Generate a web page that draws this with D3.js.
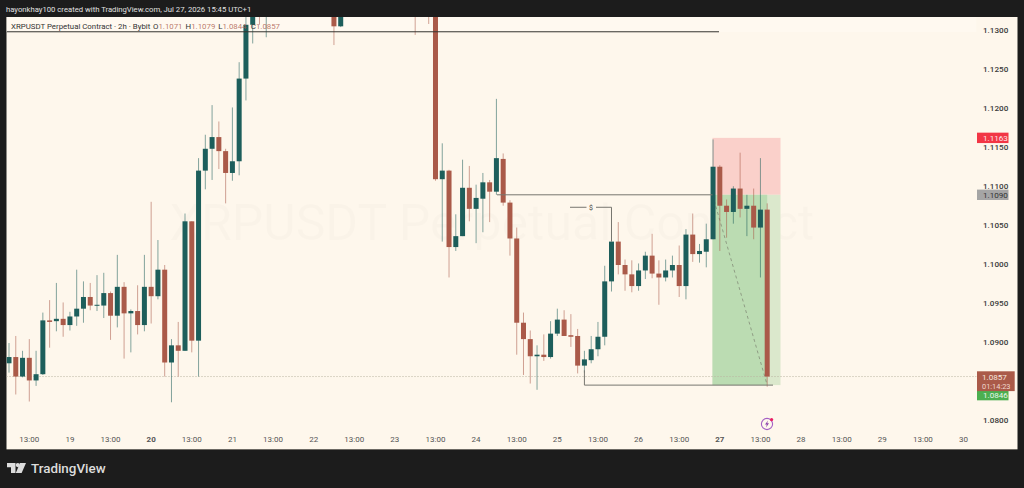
<!DOCTYPE html>
<html>
<head>
<meta charset="utf-8">
<script src="https://cdn.jsdelivr.net/npm/d3@7"></script>
<style>
  html, body { margin: 0; padding: 0; background: #1c1c1c; overflow: hidden; }
  text { font-family: Roboto, "Noto Sans", sans-serif; }
</style>
</head>
<body>
<script>
const width = 1024;
const height = 488;

// bars are counted from the first one on screen, 2h apart. bars above the pane are left out
const barIndex = [0,1,2,3,4,5,6,7,8,9,10,11,12,13,14,15,16,17,18,19,20,21,22,23,24,25,26,27,28,29,30,31,32,33,34,35,36,37,38,48,49,60,62,63,64,65,66,67,68,69,70,71,72,73,74,75,76,77,78,79,80,81,82,83,84,85,86,87,88,89,90,91,92,93,94,95,96,97,98,99,100,101,102,103,104,105,106,107,108,109,110,111,112];
const opens = [1.0874,1.0882,1.0857,1.0881,1.0852,1.0860,1.0929,1.0928,1.0931,1.0923,1.0934,1.0944,1.0959,1.0948,1.0948,1.0964,1.0935,1.0972,1.0938,1.0941,1.0923,1.0972,1.0960,1.0994,1.0875,1.0897,1.0890,1.1056,1.0903,1.1121,1.1149,1.1164,1.1146,1.1118,1.1133,1.1239,1.1308,1.1360,1.1345,1.1340,1.1306,1.1345,1.1350,1.1340,1.1110,1.1121,1.1023,1.1037,1.1099,1.1072,1.1085,1.1106,1.1094,1.1136,1.1080,1.1034,1.0926,1.0905,1.0883,1.0885,1.0882,1.0912,1.0930,1.0910,1.0909,1.0871,1.0878,1.0892,1.0908,1.0979,1.1030,1.1000,1.0988,1.0973,1.0993,1.1012,1.0989,1.0984,1.0993,1.1000,1.0973,1.1039,1.1014,1.1017,1.1033,1.1126,1.1076,1.1068,1.1098,1.1072,1.1076,1.1048,1.1071];
const highs = [1.0900,1.0909,1.0890,1.0905,1.0890,1.0939,1.0955,1.0977,1.0952,1.0940,1.0994,1.0979,1.0977,1.0987,1.0990,1.0966,1.1013,1.0978,1.0943,1.0974,1.1013,1.1081,1.1032,1.1000,1.0905,1.0927,1.1066,1.1056,1.1137,1.1167,1.1205,1.1184,1.1149,1.1202,1.1260,1.1320,1.1350,1.1370,1.1365,1.1345,1.1340,1.1350,1.1355,1.1345,1.1156,1.1122,1.1065,1.1135,1.1127,1.1103,1.1118,1.1109,1.1213,1.1143,1.1083,1.1048,1.0939,1.0916,1.0897,1.0911,1.0928,1.0944,1.0942,1.0937,1.0918,1.0890,1.0909,1.0927,1.0999,1.1030,1.1055,1.1007,1.1006,1.1002,1.1017,1.1040,1.1006,1.1007,1.1012,1.1025,1.1046,1.1066,1.1027,1.1053,1.1161,1.1128,1.1084,1.1101,1.1144,1.1090,1.1098,1.1137,1.1079];
const lows = [1.0862,1.0834,1.0856,1.0825,1.0845,1.0859,1.0894,1.0915,1.0908,1.0916,1.0922,1.0926,1.0942,1.0941,1.0932,1.0904,1.0920,1.0880,1.0888,1.0911,1.0915,1.0925,1.0956,1.0857,1.0824,1.0857,1.0890,1.0888,1.0857,1.1097,1.1109,1.1123,1.1079,1.1108,1.1115,1.1211,1.1284,1.1308,1.1292,1.1282,1.1305,1.1295,1.1309,1.1108,1.1030,1.0984,1.1018,1.1037,1.1056,1.1028,1.1042,1.1055,1.1090,1.1076,1.1012,1.0885,1.0859,1.0848,1.0840,1.0877,1.0880,1.0909,1.0909,1.0895,1.0861,1.0862,1.0874,1.0883,1.0897,1.0966,1.0988,1.0967,1.0965,1.0967,1.0982,1.0983,1.0949,1.0979,1.0984,1.0959,1.0956,1.1004,1.1003,1.0997,1.1033,1.1018,1.1035,1.1053,1.1061,1.1037,1.1033,1.0984,1.0844];
const closes = [1.0882,1.0857,1.0881,1.0852,1.0860,1.0929,1.0927,1.0931,1.0923,1.0934,1.0944,1.0959,1.0948,1.0949,1.0964,1.0935,1.0972,1.0938,1.0941,1.0923,1.0972,1.0960,1.0994,1.0875,1.0897,1.0890,1.1056,1.0903,1.1121,1.1149,1.1164,1.1146,1.1118,1.1133,1.1239,1.1308,1.1340,1.1345,1.1355,1.1306,1.1335,1.1335,1.1340,1.1110,1.1121,1.1023,1.1037,1.1099,1.1072,1.1086,1.1106,1.1094,1.1137,1.1080,1.1034,1.0926,1.0905,1.0883,1.0885,1.0882,1.0912,1.0930,1.0909,1.0908,1.0871,1.0879,1.0892,1.0908,1.0979,1.1030,1.1000,1.0988,1.0973,1.0993,1.1012,1.0989,1.0984,1.0993,1.1000,1.0973,1.1039,1.1014,1.1018,1.1033,1.1126,1.1076,1.1068,1.1098,1.1072,1.1076,1.1048,1.1071,1.0857];

// 1.0850 sits behind the last price tag in the original, so it is not listed
const priceTicks = [1.13, 1.125, 1.12, 1.115, 1.11, 1.105, 1.1, 1.095, 1.09, 1.08];
const timeTicks = [3,9,15,21,27,33,39,45,51,57,63,69,75,81,87,93,99,105,111,117,123,129,135,141];
const timeLabels = ["13:00","19","13:00","20","13:00","21","13:00","22","13:00","23","13:00","24","13:00","25","13:00","26","13:00","27","13:00","28","13:00","29","13:00","30"];
const boldLabels = ["20", "27"];

const stopPrice = 1.1163;
const entryPrice = 1.109;
const targetPrice = 1.0846;
const lastPrice = 1.0857;
const resistance = 1.1299;
const brokenHigh = 1.109;
const sweepLevel = 1.103;
const sweepLabelLevel = 1.1074;

const ohlcLabels = [["O", "1.1071"], ["H", "1.1079"], ["L", "1.0844"], ["C", "1.0857"]];

const upColor = "#1d5e5b";
const downColor = "#aa5a49";
const paper = "#fef7ec";
const toolLine = "#77766f";

const y = d3.scaleLinear().domain([1.08, 1.13]).range([421, 31]);
const x = d3.scaleLinear().domain([0, 112]).range([9, 767.2]);

const svg = d3.select("body").append("svg")
  .attr("width", width)
  .attr("height", height)
  .style("display", "block");

svg.append("rect").attr("width", width).attr("height", height).attr("fill", "#1c1c1c");

svg.append("text")
  .attr("x", 6).attr("y", 12)
  .attr("fill", "#e0e0e0").attr("font-size", 7.7)
  .text("hayonkhay100 created with TradingView.com, Jul 27, 2026 15:45 UTC+1");

svg.append("rect")
  .attr("x", 6.5).attr("y", 17).attr("width", 1011).attr("height", 432)
  .attr("fill", paper);
svg.append("rect")
  .attr("x", 6.5).attr("y", 449).attr("width", 1011).attr("height", 1)
  .attr("fill", "#6d6a64");

svg.append("defs").append("clipPath").attr("id", "pane")
  .append("rect").attr("x", 6.5).attr("y", 17).attr("width", 970).attr("height", 432);

svg.append("text")
  .attr("x", 492).attr("y", 240)
  .attr("text-anchor", "middle")
  .attr("font-size", 50).attr("fill", "#000").attr("fill-opacity", 0.015)
  .text("XRPUSDT Perpetual Contract");

const pane = svg.append("g").attr("clip-path", "url(#pane)");

// strip behind the legend text
pane.append("rect")
  .attr("x", 6.5).attr("y", 17).attr("width", 970).attr("height", 15)
  .attr("fill", "#fff9f0");

// position tool
const toolLeft = 712.5;
const toolRight = 780.5;
pane.append("rect")
  .attr("x", toolLeft).attr("y", y(stopPrice))
  .attr("width", toolRight - toolLeft).attr("height", y(entryPrice) - y(stopPrice))
  .attr("fill", "#fad0ca");
pane.append("rect")
  .attr("x", toolLeft).attr("y", y(entryPrice))
  .attr("width", toolRight - toolLeft).attr("height", y(targetPrice) - y(entryPrice))
  .attr("fill", "#dbe8cc");
pane.append("rect")
  .attr("x", toolLeft).attr("y", y(entryPrice))
  .attr("width", x(112) - toolLeft).attr("height", y(targetPrice) - y(entryPrice))
  .attr("fill", "#bbdcb2");
pane.append("line")
  .attr("x1", toolLeft).attr("y1", y(entryPrice))
  .attr("x2", x(112)).attr("y2", y(targetPrice))
  .attr("stroke", "#8f9d84").attr("stroke-dasharray", "3 3");

pane.append("line")
  .attr("x1", 6.5).attr("x2", 977)
  .attr("y1", y(lastPrice)).attr("y2", y(lastPrice))
  .attr("stroke", "#b9b2a0").attr("stroke-dasharray", "1 2");

const bars = barIndex.map((i, k) => ({ i, o: opens[k], h: highs[k], l: lows[k], c: closes[k] }));

pane.selectAll("line.wick")
  .data(bars)
  .join("line")
  .attr("class", "wick")
  .attr("x1", (d) => x(d.i)).attr("x2", (d) => x(d.i))
  .attr("y1", (d) => y(d.h)).attr("y2", (d) => y(d.l))
  .attr("stroke", (d) => (d.c >= d.o ? upColor : downColor))
  .attr("stroke-opacity", 0.55);

pane.selectAll("rect.body")
  .data(bars)
  .join("rect")
  .attr("class", "body")
  .attr("x", (d) => x(d.i) - 2.5)
  .attr("width", 5)
  .attr("y", (d) => y(Math.max(d.o, d.c)))
  .attr("height", (d) => Math.max(1, Math.abs(y(d.o) - y(d.c))))
  .attr("fill", (d) => (d.c >= d.o ? upColor : downColor));

// hand drawn levels
const drawn = pane.append("g").attr("fill", "none").attr("stroke", toolLine);
drawn.append("line")
  .attr("x1", 6.5).attr("x2", 719)
  .attr("y1", y(resistance)).attr("y2", y(resistance))
  .attr("stroke", "#34332f");
drawn.append("line")
  .attr("x1", 497).attr("x2", toolLeft)
  .attr("y1", y(brokenHigh)).attr("y2", y(brokenHigh));
drawn.append("path")
  .attr("d", d3.line()([[x(85), y(1.0865)], [x(85), y(targetPrice)], [773, y(targetPrice)]]));
drawn.append("path")
  .attr("d", d3.line()([[596, y(sweepLabelLevel)], [x(89), y(sweepLabelLevel)], [x(89), y(sweepLevel)]]));
drawn.append("line")
  .attr("x1", 570).attr("x2", 586.5)
  .attr("y1", y(sweepLabelLevel)).attr("y2", y(sweepLabelLevel));
pane.append("text")
  .attr("x", 591).attr("y", y(sweepLabelLevel) + 2.5)
  .attr("text-anchor", "middle")
  .attr("font-size", 7).attr("fill", "#444")
  .text("$");

// legend line
const legend = svg.append("text").attr("y", 29).attr("font-size", 7.85).attr("fill", "#333");
legend.append("tspan").attr("x", 11).text("XRPUSDT Perpetual Contract · 2h · Bybit");
ohlcLabels.forEach(([k, v], n) => {
  legend.append("tspan").attr("x", 153 + n * 32.6).text(k);
  legend.append("tspan").attr("fill", downColor).attr("fill-opacity", 0.8).text(v);
});

// axes
const yAxis = svg.append("g")
  .attr("transform", "translate(983,-1)")
  .call(d3.axisRight(y).tickValues(priceTicks).tickSize(0).tickPadding(0).tickFormat(d3.format(".4f")));
yAxis.select(".domain").remove();
yAxis.selectAll("text")
  .attr("font-family", null)
  .attr("font-size", 8.1).attr("font-weight", 500).attr("fill", "#3a3a3a");

const xAxis = svg.append("g")
  .attr("transform", "translate(-0.5,436)")
  .call(d3.axisBottom(x).tickValues(timeTicks).tickSize(0).tickPadding(0)
    .tickFormat((d, n) => timeLabels[n]));
xAxis.select(".domain").remove();
xAxis.selectAll("text")
  .attr("font-family", null)
  .attr("font-size", 8)
  .attr("fill", "#555")
  .attr("font-weight", (d, n) => (boldLabels.includes(timeLabels[n]) ? 700 : 400));

// price tags
const tags = [
  { price: stopPrice, fill: "#f23645", color: "#fde8ea" },
  { price: entryPrice, fill: "#a5a5a5", color: "#333" },
  { price: targetPrice, fill: "#4caf50", color: "#eaf6ea", dy: 10 },
];
tags.forEach((t) => {
  const cy = y(t.price) + (t.dy || 0);
  svg.append("rect")
    .attr("x", 977).attr("y", cy - 5.2).attr("width", 31.5).attr("height", 10.4)
    .attr("fill", t.fill);
  svg.append("text")
    .attr("x", 983).attr("y", cy + 2.9)
    .attr("font-size", 8.1).attr("fill", t.color)
    .text(d3.format(".4f")(t.price));
});
svg.append("rect")
  .attr("x", 977).attr("y", 371.3).attr("width", 37.7).attr("height", 19.8)
  .attr("fill", downColor);
svg.append("text")
  .attr("x", 982).attr("y", 380)
  .attr("font-size", 8.1).attr("fill", "#f6e6df")
  .text(d3.format(".4f")(lastPrice));
svg.append("text")
  .attr("x", 982).attr("y", 388.8)
  .attr("font-size", 7.4).attr("fill", "#f0d8ce")
  .text("01:14:23");

// alert icon on the time scale
const bolt = svg.append("g").attr("transform", "translate(767,424)");
bolt.append("circle").attr("r", 5.6).attr("fill", "none").attr("stroke", "#a45fc4").attr("stroke-width", 1.1);
bolt.append("path").attr("d", "M1,-3.4 L-2,0.6 L-0.2,0.6 L-1,3.4 L2,-0.8 L0.2,-0.8 Z").attr("fill", "#8e44ad");
bolt.append("circle").attr("cx", 4.6).attr("cy", -4.4).attr("r", 1.6).attr("fill", "#e91e63");

// footer logo
const logo = svg.append("g").attr("transform", "translate(7,463)").attr("fill", "#dcdcdc");
logo.append("path").attr("d", "M0,0 H8.5 V10 H4 V4.2 H0 Z");
logo.append("circle").attr("cx", 10.8).attr("cy", 2.1).attr("r", 2.1);
logo.append("path").attr("d", "M13,0 H19 L14.6,10 H8.8 Z");
svg.append("text")
  .attr("x", 31).attr("y", 473)
  .attr("font-size", 13.4).attr("font-weight", 500).attr("fill", "#dcdcdc")
  .text("TradingView");
</script>
</body>
</html>
